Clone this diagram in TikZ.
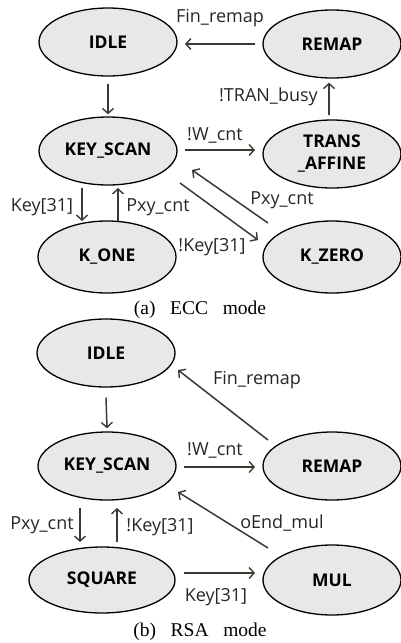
\documentclass[tikz,border=0pt]{standalone}
\usepackage{fontspec}
\setmainfont{Liberation Serif}
\newfontfamily\lblfont{Open Sans}
\usetikzlibrary{arrows.meta,calc,shapes.geometric}
\definecolor{ellfill}{HTML}{E8E8E8}
\definecolor{arrcol}{HTML}{3A3A32}
\tikzset{
  state/.style={ellipse,draw=black,line width=1.3pt,fill=ellfill,minimum width=138pt,minimum height=68pt,inner sep=0pt,font=\lblfont\fontsize{17.5}{19}\selectfont\bfseries,align=center},
  arr/.style={draw=arrcol,line width=1.5pt,-{Straight Barb[length=5pt,width=11pt,line width=1.4pt]}},
  lbl/.style={font=\lblfont\fontsize{18}{20}\selectfont,text=black!85,inner sep=0pt},
  captext/.style={font=\fontsize{19.5}{21}\selectfont,inner sep=0pt}
}
\begin{document}
\begin{tikzpicture}[x=1pt,y=-1pt]
\useasboundingbox (0,0) rectangle (401,643);
% ---------- (a) ECC mode ----------
\node[state] (aidle) at (108,42) {IDLE};
\node[state] (aremap) at (332,44) {REMAP};
\node[state] (aks) at (108,151) {KEY\_SCAN};
\node[state,minimum height=68pt] (ata) at (332,154) {TRANS\\[3pt]\_AFFINE};
\node[state,minimum height=72pt] (akone) at (107,257) {K\_ONE};
\node[state,minimum height=72pt] (akzero) at (332,257) {K\_ZERO};
\draw[arr] ($(aremap.center)+(-77,0)$) -- ($(aidle.center)+(77,2)$);
\draw[arr] ($(aidle.south)+(0,7)$) -- ($(aks.north)+(0,-2)$);
\draw[arr] ($(aks.center)+(77,-1)$) -- ($(ata.center)+(-77,-4)$);
\draw[arr] ($(ata.north)+(-3,-4)$) -- ($(aremap.south)+(-3,4)$);
\draw[arr] ($(aks.center)+(-26,37)$) -- ($(akone.center)+(-25,-36)$);
\draw[arr] ($(akone.center)+(11,-36)$) -- ($(aks.center)+(10,37)$);
\draw[arr] ($(aks.center)+(72,32)$) -- ($(akzero.center)+(-74,-17)$);
\draw[arr] ($(akzero.center)+(-64,-34)$) -- ($(aks.center)+(84,19)$);
\node[lbl] (la1) at (220,18) {Fin\_remap};
\node[lbl] (la2) at (215,135) {!W\_cnt};
\node[lbl,anchor=east] (la3) at (318,97) {!TRAN\_busy};
\node[lbl] (la4) at (42,207) {Key[31]};
\node[lbl] (la5) at (158,207) {Pxy\_cnt};
\node[lbl] (la6) at (282,200) {Pxy\_cnt};
\node[lbl] (la7) at (212,247) {!Key[31]};
\node[captext] (capa) at (200,310) {(a)\hspace{0.5em} ECC\hspace{0.5em} mode};
% ---------- (b) RSA mode ----------
\node[state] (bidle) at (106,353) {IDLE};
\node[state] (bks) at (107,466) {KEY\_SCAN};
\node[state] (bremap) at (332,466) {REMAP};
\node[state,minimum width=146pt,minimum height=66pt] (bsq) at (102,580) {SQUARE};
\node[state,minimum height=70pt] (bmul) at (332,580) {MUL};
\draw[arr] ($(bidle.south)+(0,10)$) -- ($(bks.north)+(0,-3)$);
\draw[arr] ($(bremap.center)+(-64,-26)$) -- ($(bidle.center)+(72,17)$);
\draw[arr] ($(bks.center)+(77,1)$) -- ($(bremap.center)+(-77,1)$);
\draw[arr] ($(bks.center)+(-27,42)$) -- ($(bsq.center)+(-22,-38)$);
\draw[arr] ($(bsq.center)+(15,-38)$) -- ($(bks.center)+(10,42)$);
\draw[arr] ($(bmul.center)+(-64,-32)$) -- ($(bks.center)+(71,26)$);
\draw[arr] ($(bsq.center)+(82,-7)$) -- ($(bmul.center)+(-77,-7)$);
\node[lbl] (lb1) at (257,380) {Fin\_remap};
\node[lbl] (lb2) at (215,450) {!W\_cnt};
\node[lbl] (lb3) at (42,525) {Pxy\_cnt};
\node[lbl] (lb4) at (160,527) {!Key[31]};
\node[lbl] (lb5) at (282,523) {oEnd\_mul};
\node[lbl] (lb6) at (216,597) {Key[31]};
\node[captext] (capb) at (200,632) {(b)\hspace{0.5em} RSA\hspace{0.5em} mode};
\end{tikzpicture}
\end{document}
